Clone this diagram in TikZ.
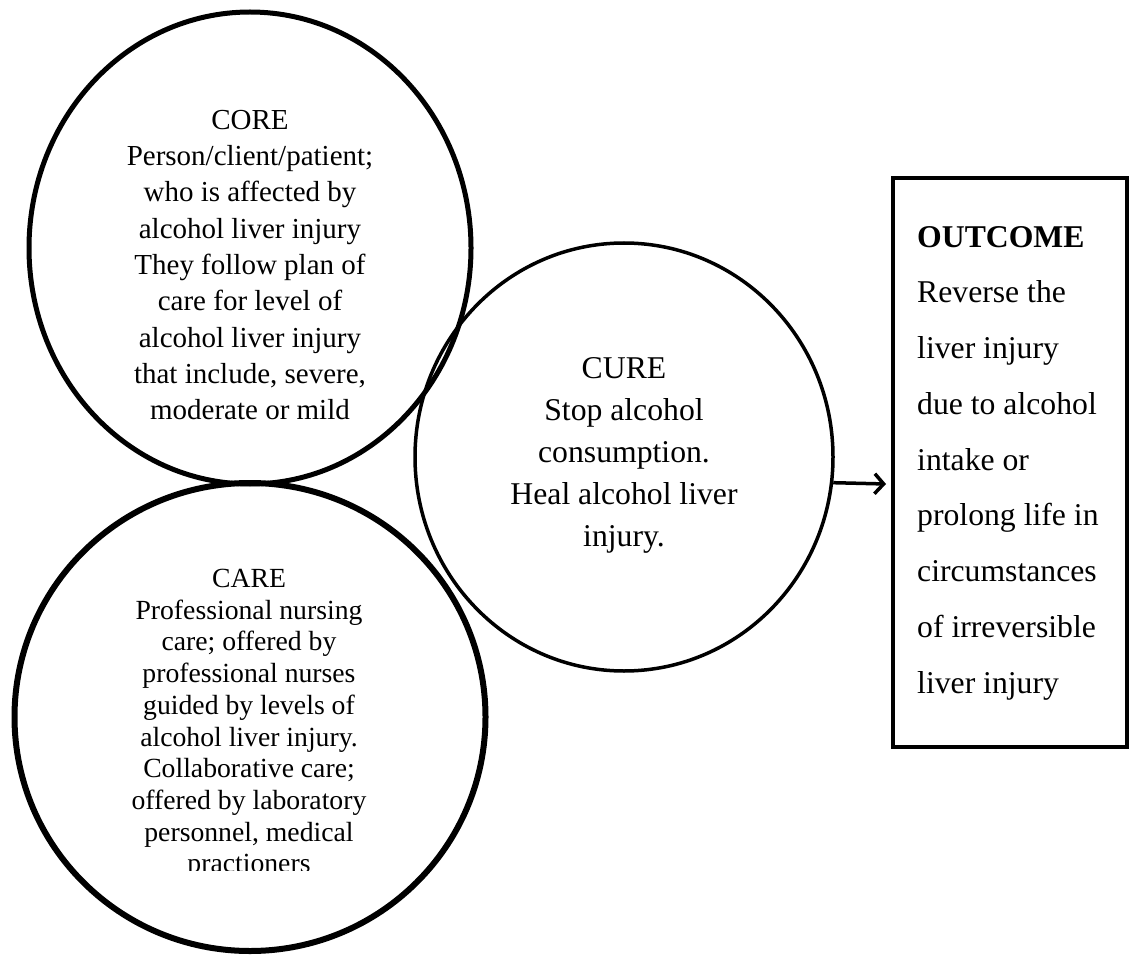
\documentclass[tikz,border=0pt]{standalone}
\usepackage{fontspec}
\setmainfont{Liberation Serif}
\usetikzlibrary{shapes.geometric,arrows.meta}
\begin{document}
\begin{tikzpicture}[x=1pt,y=-1pt,
  ring/.style={draw=black, ellipse, inner sep=0pt},
  body/.style={align=center, inner sep=0pt},
  flowarrow/.style={line width=3.5pt, -{Straight Barb[length=9pt,width=20pt,line width=3.5pt 0 1]}},
]
\useasboundingbox (0,0) rectangle (1132,965);
% shapes
\node[ring, line width=5pt, minimum width=442pt, minimum height=472pt] (core) at (250,248) {};
\node[ring, line width=3.5pt, minimum width=418pt, minimum height=428pt] (cure) at (624,457) {};
\node[ring, line width=6pt, minimum width=471pt, minimum height=468pt] (care) at (250,717) {};
\node[draw, line width=4pt, minimum width=234pt, minimum height=569pt, inner sep=0pt] (outcome) at (1010,462.5) {};
% texts
\node[body, font=\fontsize{29}{36.3}\selectfont] (coretext) at (250,265) {CORE\\Person/client/patient;\\who is affected by\\alcohol liver injury\\They follow plan of\\care for level of\\alcohol liver injury\\that include, severe,\\moderate or mild};
\node[body, font=\fontsize{31.7}{42}\selectfont] (curetext) at (624,455) {CURE\\Stop alcohol\\consumption.\\Heal alcohol liver\\injury.};
\begin{scope}
\clip (60,540) rectangle (440,870);
\node[body, font=\fontsize{27.7}{31.7}\selectfont] (caretext) at (249,724) {CARE\\Professional nursing\\care; offered by\\professional nurses\\guided by levels of\\alcohol liver injury.\\Collaborative care;\\offered by laboratory\\personnel, medical\\practioners};
\end{scope}
\node[align=left, inner sep=0pt, anchor=west, font=\fontsize{31.7}{55.75}\selectfont] (outcometext) at (917,463) {\textbf{OUTCOME}\\Reverse the\\liver injury\\due to alcohol\\intake or\\prolong life in\\circumstances\\of irreversible\\liver injury};
% connector
\coordinate (tip) at (886,484);
\draw[flowarrow] (cure.-7.3) -- (tip);
\end{tikzpicture}
\end{document}
